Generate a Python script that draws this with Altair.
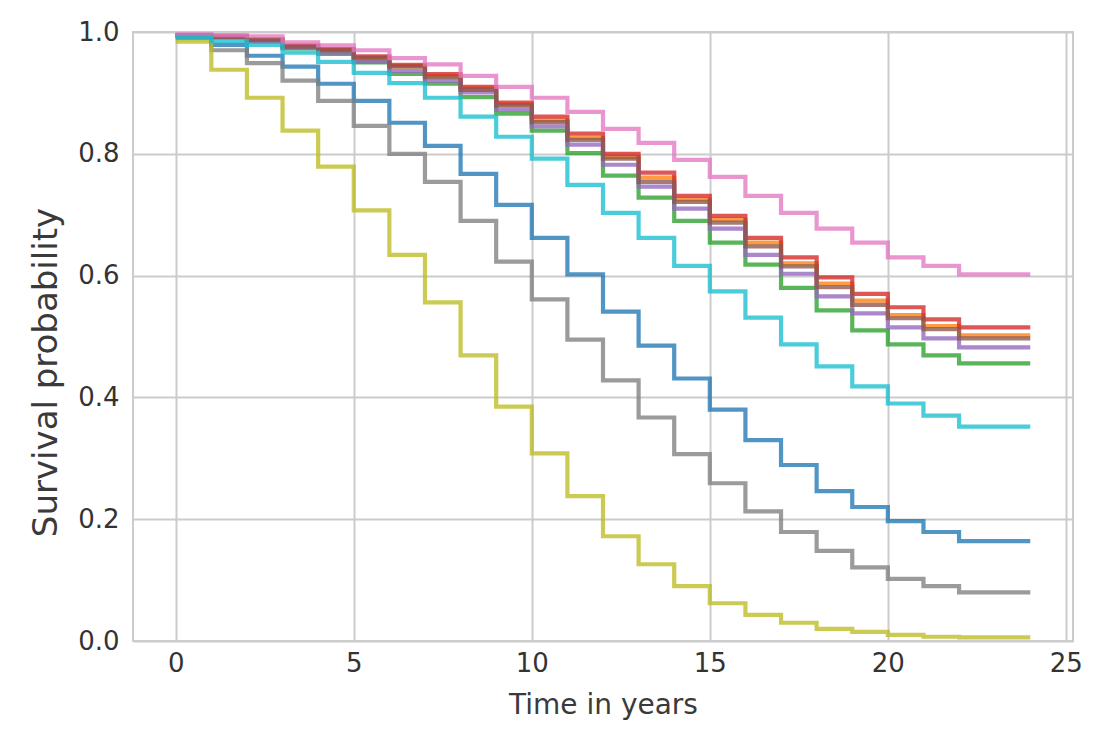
import altair as alt
import pandas as pd

times = list(range(0, 25))

series_names = ["S0", "S1", "S2", "S3", "S4", "S5", "S6", "S7", "S8", "S9"]
series_colors = ["#1f77b4", "#ff7f0e", "#2ca02c", "#d62728", "#9467bd",
                 "#8c564b", "#e377c2", "#7f7f7f", "#bcbd22", "#17becf"]

blue = [0.991, 0.979, 0.961, 0.943, 0.915, 0.887, 0.851, 0.813, 0.767, 0.716, 0.662, 0.602, 0.541,
        0.485, 0.431, 0.380, 0.330, 0.289, 0.246, 0.220, 0.197, 0.179, 0.164, 0.164, 0.164]
orange = [0.995, 0.992, 0.987, 0.977, 0.971, 0.958, 0.944, 0.928, 0.907, 0.881, 0.855, 0.826, 0.795,
          0.761, 0.725, 0.692, 0.654, 0.620, 0.587, 0.559, 0.535, 0.517, 0.502, 0.502, 0.502]
green = [0.995, 0.991, 0.984, 0.973, 0.964, 0.950, 0.931, 0.915, 0.893, 0.866, 0.838, 0.801, 0.764,
         0.728, 0.690, 0.654, 0.618, 0.580, 0.543, 0.510, 0.487, 0.469, 0.456, 0.456, 0.456]
red = [0.995, 0.993, 0.988, 0.978, 0.972, 0.960, 0.946, 0.931, 0.910, 0.884, 0.861, 0.833, 0.800,
       0.769, 0.731, 0.698, 0.662, 0.630, 0.597, 0.570, 0.548, 0.528, 0.515, 0.515, 0.515]
purple = [0.995, 0.991, 0.985, 0.974, 0.966, 0.951, 0.936, 0.920, 0.901, 0.872, 0.845, 0.815, 0.782,
          0.746, 0.710, 0.677, 0.634, 0.603, 0.566, 0.538, 0.515, 0.497, 0.482, 0.482, 0.482]
brown = [0.995, 0.992, 0.987, 0.976, 0.970, 0.957, 0.943, 0.926, 0.905, 0.879, 0.852, 0.823, 0.792,
         0.754, 0.721, 0.687, 0.648, 0.615, 0.581, 0.552, 0.530, 0.512, 0.497, 0.497, 0.497]
pink = [0.996, 0.995, 0.993, 0.983, 0.978, 0.970, 0.957, 0.947, 0.928, 0.910, 0.892, 0.869, 0.841,
        0.818, 0.790, 0.762, 0.731, 0.703, 0.677, 0.654, 0.630, 0.616, 0.602, 0.602, 0.602]
gray = [0.990, 0.970, 0.949, 0.920, 0.887, 0.846, 0.800, 0.754, 0.690, 0.623, 0.561, 0.495, 0.428,
        0.367, 0.307, 0.259, 0.213, 0.179, 0.148, 0.121, 0.102, 0.090, 0.080, 0.080, 0.080]
olive = [0.984, 0.938, 0.892, 0.838, 0.779, 0.707, 0.634, 0.556, 0.469, 0.385, 0.308, 0.238, 0.172,
         0.126, 0.090, 0.062, 0.043, 0.030, 0.020, 0.015, 0.010, 0.007, 0.006, 0.006, 0.006]
cyan = [0.992, 0.985, 0.979, 0.966, 0.951, 0.933, 0.916, 0.892, 0.861, 0.828, 0.792, 0.749, 0.703,
        0.662, 0.616, 0.574, 0.531, 0.487, 0.451, 0.418, 0.390, 0.370, 0.352, 0.352, 0.352]

x_ticks = [0, 5, 10, 15, 20, 25]
y_ticks = [0.0, 0.2, 0.4, 0.6, 0.8, 1.0]

all_series = [blue, orange, green, red, purple, brown, pink, gray, olive, cyan]
rows = []
for idx, (name, vals) in enumerate(zip(series_names, all_series)):
    for t, v in zip(times, vals):
        rows.append({"series": name, "t": t, "s": v, "k": idx})
df = pd.DataFrame(rows)

FONT = "DejaVu Sans"

chart = alt.Chart(df).mark_line(
    interpolate="step-after", strokeWidth=4.2, opacity=0.78, clip=True
).encode(
    x=alt.X("t:Q",
            scale=alt.Scale(domain=[-1.2, 25.2], nice=False, zero=False),
            axis=alt.Axis(values=x_ticks, format="d", title="Time in years",
                          labelFontSize=26, labelPadding=9, titleFontSize=28,
                          titleY=72, titleBaseline="alphabetic", titleFontWeight="normal")),
    y=alt.Y("s:Q",
            scale=alt.Scale(domain=[0, 1], nice=False),
            axis=alt.Axis(values=y_ticks, format=".1f", title="Survival probability",
                          labelFontSize=26, labelPadding=14, titleFontSize=34,
                          titleX=-77, titleY=340, titleAngle=270,
                          titleBaseline="alphabetic", titleAlign="center",
                          titleFontWeight="normal")),
    color=alt.Color("series:N", scale=alt.Scale(domain=series_names, range=series_colors), legend=None),
    order=alt.Order("t:Q"),
).properties(
    width=940, height=609,
    padding={"left": 125, "top": 24, "right": 20, "bottom": 100},
    autosize=alt.AutoSizeParams(type="none"),
).configure_view(
    stroke="#cccccc", strokeWidth=2
).configure_axis(
    domain=False, ticks=False, tickSize=0,
    grid=True, gridColor="#cccccc", gridWidth=2,
    labelFont=FONT, titleFont=FONT,
    labelColor="#333333", titleColor="#3a3a3a",
)

chart.save("out.html", embed_options={"renderer": "svg", "actions": False})
